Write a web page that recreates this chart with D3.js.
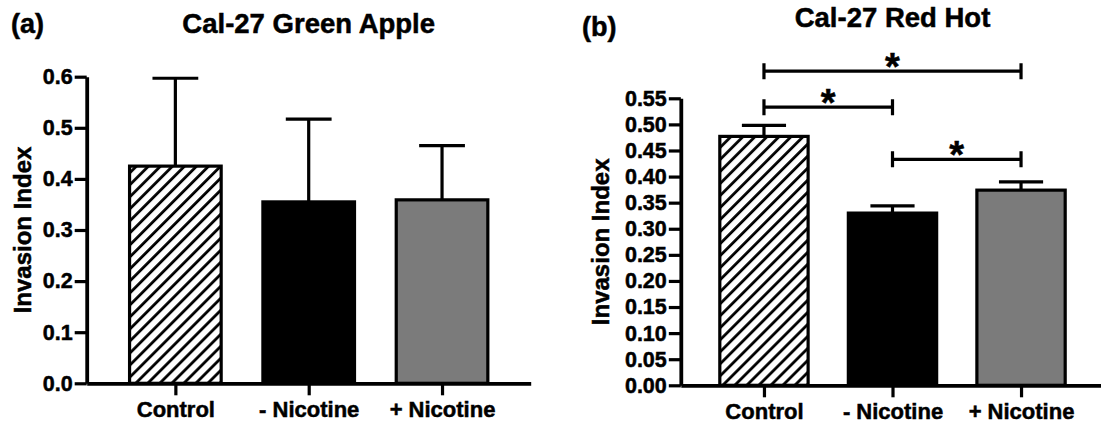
<!DOCTYPE html>
<html lang="en">
<head>
    <meta charset="UTF-8">
    <title>Cal-27 Invasion Index</title>
    <script src="https://d3js.org/d3.v7.min.js"></script>
    <style>
        body { margin: 0; background: #fff; }
        text { font-family: "Liberation Sans", Arial, Helvetica, sans-serif; font-weight: bold; fill: #000; stroke: #000; stroke-width: 0.5px; }
    </style>
</head>
<body>
<svg width="1101" height="424" viewBox="0 0 1101 424">
    <defs>
        <pattern id="hatch" patternUnits="userSpaceOnUse" width="8.5" height="8.5" patternTransform="rotate(45)">
            <rect width="8.5" height="8.5" fill="#fff"></rect>
            <line x1="1.5" y1="0" x2="1.5" y2="8.5" stroke="#000" stroke-width="2.8"></line>
        </pattern>
    </defs>
</svg>
<script>
    // data
    let categories = ["Control", "- Nicotine", "+ Nicotine"]
    let fills = ["url(#hatch)", "#000", "#7b7b7b"]

    let greenAppleMeans = [0.425, 0.355, 0.359]
    let greenAppleErr = [0.172, 0.162, 0.106]
    let greenAppleTicks = [0, 0.1, 0.2, 0.3, 0.4, 0.5, 0.6]

    let redHotMeans = [0.477, 0.330, 0.374]
    let redHotErr = [0.021, 0.014, 0.016]
    let redHotTicks = [0, 0.05, 0.10, 0.15, 0.20, 0.25, 0.30, 0.35, 0.40, 0.45, 0.50, 0.55]
    // significance brackets: from/to category index, height in data units
    let redHotBrackets = [
        {from: 0, to: 2, level: 0.602, label: "*"},
        {from: 0, to: 1, level: 0.533, label: "*"},
        {from: 1, to: 2, level: 0.433, label: "*"}
    ]

    let svg = d3.select('svg')

    function drawPanel(p) {
        let g = svg.append("g")

        let y = d3.scaleLinear().domain([0, p.yMax]).range([p.bottom, p.top])
        let x = d3.scalePoint().domain(categories).range([p.left, p.right]).padding(p.pad)
        let barW = x.step() * 0.687

        let rows = categories.map(function(c, i) {
            return {cat: c, mean: p.means[i], err: p.err[i], fill: fills[i]}
        })

        // bars
        g.selectAll(".bar")
            .data(rows)
            .enter()
            .append("rect")
            .attr("x", function(d) { return x(d.cat) - barW / 2 })
            .attr("y", function(d) { return y(d.mean) })
            .attr("width", barW)
            .attr("height", function(d) { return y(0) - y(d.mean) })
            .attr("fill", function(d) { return d.fill })
            .attr("stroke", "#000")
            .attr("stroke-width", 3.2)

        // upper error whiskers
        let eb = g.selectAll(".err").data(rows).enter().append("g")
        eb.append("line")
            .attr("x1", function(d) { return x(d.cat) })
            .attr("x2", function(d) { return x(d.cat) })
            .attr("y1", function(d) { return y(d.mean) })
            .attr("y2", function(d) { return y(d.mean + d.err) })
        eb.append("line")
            .attr("x1", function(d) { return x(d.cat) - barW / 4 })
            .attr("x2", function(d) { return x(d.cat) + barW / 4 })
            .attr("y1", function(d) { return y(d.mean + d.err) })
            .attr("y2", function(d) { return y(d.mean + d.err) })
        eb.selectAll("line").attr("stroke", "#000").attr("stroke-width", 3.2)

        // axes
        let yAxis = g.append("g")
            .attr("transform", `translate(${p.left},0)`)
            .call(d3.axisLeft(y).tickValues(p.ticks).tickFormat(d3.format(p.fmt))
                .tickSize(12).tickSizeOuter(0).tickPadding(2))
        let xAxis = g.append("g")
            .attr("transform", `translate(0,${p.bottom})`)
            .call(d3.axisBottom(x).tickSize(12).tickSizeOuter(0).tickPadding(6))

        ;[yAxis, xAxis].forEach(function(a) {
            a.select(".domain").attr("stroke-width", 3.8)
            a.selectAll(".tick line").attr("stroke-width", 3.2)
        })
        yAxis.selectAll("text").attr("font-size", 21.5)
        xAxis.selectAll("text").attr("font-size", 22)

        // brackets
        ;(p.brackets || []).forEach(function(b) {
            let x1 = x(categories[b.from]), x2 = x(categories[b.to]), yy = y(b.level)
            g.append("path")
                .attr("d", `M${x1},${yy - 8}V${yy + 8}M${x1},${yy}H${x2}M${x2},${yy - 8}V${yy + 8}`)
                .attr("fill", "none")
                .attr("stroke", "#000")
                .attr("stroke-width", 3.2)
            g.append("text")
                .attr("x", (x1 + x2) / 2)
                .attr("y", yy + 9)
                .attr("text-anchor", "middle")
                .attr("font-size", 38)
                .text(b.label)
        })

        // titles
        g.append("text")
            .attr("x", (p.left + p.right) / 2)
            .attr("y", p.titleY)
            .attr("text-anchor", "middle")
            .attr("font-size", 27.5)
            .text(p.title)
        g.append("text")
            .attr("x", p.tagX)
            .attr("y", p.tagY)
            .attr("font-size", 27)
            .text(p.tag)
        g.append("text")
            .attr("transform", `translate(${p.labelX},${(p.top + p.bottom) / 2}) rotate(-90)`)
            .attr("text-anchor", "middle")
            .attr("font-size", 24)
            .text("Invasion Index")
    }

    drawPanel({
        means: greenAppleMeans, err: greenAppleErr, ticks: greenAppleTicks, fmt: ".1f", yMax: 0.6,
        left: 86.7, right: 530.7, pad: 0.665, top: 76.7, bottom: 383.3,
        title: "Cal-27 Green Apple", titleY: 33, tag: "(a)", tagX: 11, tagY: 33, labelX: 31
    })
    drawPanel({
        means: redHotMeans, err: redHotErr, ticks: redHotTicks, fmt: ".2f", yMax: 0.55,
        left: 680.8, right: 1104.2, pad: 0.647, top: 98.3, bottom: 385.3,
        brackets: redHotBrackets,
        title: "Cal-27 Red Hot", titleY: 27, tag: "(b)", tagX: 582, tagY: 36, labelX: 609
    })
</script>
</body>
</html>
